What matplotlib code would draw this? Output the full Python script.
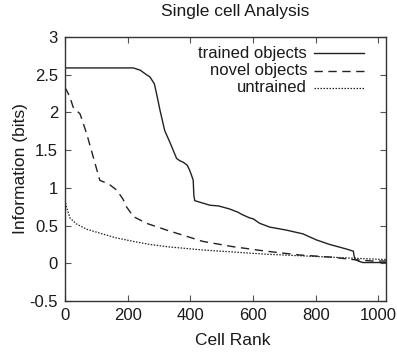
import numpy as np
import matplotlib
matplotlib.use('Agg')
from matplotlib import pyplot as plt

plt.rcParams['font.family'] = ['Liberation Sans', 'DejaVu Sans']

# trained objects
trained_x = [0, 218, 240, 260, 271, 285, 292, 303, 318, 335, 345, 356, 366, 377, 390, 398, 405, 409,
             411, 414, 430, 462, 490, 525, 550, 568, 590, 600, 621, 653, 706, 759, 802, 844, 897,
             920, 922, 926, 935, 950, 1024]
trained_y = [2.59, 2.59, 2.56, 2.50, 2.47, 2.38, 2.25, 2.03, 1.76, 1.60, 1.50, 1.39, 1.36, 1.34, 1.30,
             1.23, 1.15, 1.10, 0.90, 0.83, 0.81, 0.77, 0.76, 0.72, 0.68, 0.64, 0.60, 0.59, 0.53, 0.48,
             0.44, 0.39, 0.31, 0.25, 0.19, 0.16, 0.10, 0.05, 0.03, 0.01, 0.01]

# novel objects
novel_x = [0, 8, 16, 26, 48, 69, 90, 111, 140, 165, 185, 196, 218, 260, 303, 324, 440, 536, 642, 748,
           854, 917, 981, 1024]
novel_y = [2.33, 2.27, 2.20, 2.07, 1.98, 1.72, 1.41, 1.10, 1.05, 0.97, 0.85, 0.75, 0.62, 0.53, 0.47,
           0.44, 0.29, 0.22, 0.16, 0.11, 0.08, 0.05, 0.03, 0.03]

# untrained
untrained_x = [0, 2, 5, 16, 37, 70, 111, 160, 218, 271, 324, 430, 462, 536, 642, 748, 854, 960, 1024]
untrained_y = [0.88, 0.80, 0.74, 0.60, 0.52, 0.45, 0.40, 0.34, 0.29, 0.25, 0.22, 0.18, 0.17, 0.15,
               0.12, 0.10, 0.08, 0.06, 0.05]

labels = ['trained objects', 'novel objects', 'untrained']
styles = [(None, 1.0), ((6, 4), 1.0), ((1.2, 1.2), 0.9)]

fig = plt.figure(figsize=(3.97, 3.56), dpi=100)
ax = fig.add_axes([65/397, 1 - 301/356, 321/397, 264/356])

c = '#222222'
series = [(trained_x, trained_y), (novel_x, novel_y), (untrained_x, untrained_y)]
for (xs, ys), (dash, lw) in zip(series, styles):
    ln, = ax.plot(xs, ys, color=c, lw=lw)
    if dash:
        ln.set_dashes(dash)

ax.set_xlim(0, 1024)
ax.set_ylim(-0.5, 3)
ax.set_xticks([0, 200, 400, 600, 800, 1000])
ax.set_yticks([-0.5, 0, 0.5, 1, 1.5, 2, 2.5, 3])
ax.set_yticklabels(['-0.5', '0', '0.5', '1', '1.5', '2', '2.5', '3'])
ax.tick_params(direction='in', top=True, right=True, length=4, width=0.8,
               labelsize=12, labelcolor='#1a1a1a', color='#555555', pad=5)
for s in ax.spines.values():
    s.set_color('#333333')
    s.set_linewidth(1.0)

ax.set_xlabel('Cell Rank', fontsize=12.5, labelpad=7, color='#1a1a1a', x=0.523)
ax.set_ylabel('Information (bits)', fontsize=12.5, labelpad=1, color='#1a1a1a')
ax.set_title('Single cell Analysis', fontsize=12.5, pad=15, color='#1a1a1a', x=0.53)

# gnuplot style key: text right aligned, sample on the right
for i, (lab, (dash, lw)) in enumerate(zip(labels, styles)):
    yy = 0.939 - i * 0.066
    ax.text(0.754, yy, lab, transform=ax.transAxes, ha='right', va='center',
            fontsize=12, color='#1a1a1a')
    ln, = ax.plot([0.776, 0.931], [yy, yy], transform=ax.transAxes, color=c, lw=lw)
    if dash:
        ln.set_dashes(dash)

fig.savefig('out.png', dpi=100)
